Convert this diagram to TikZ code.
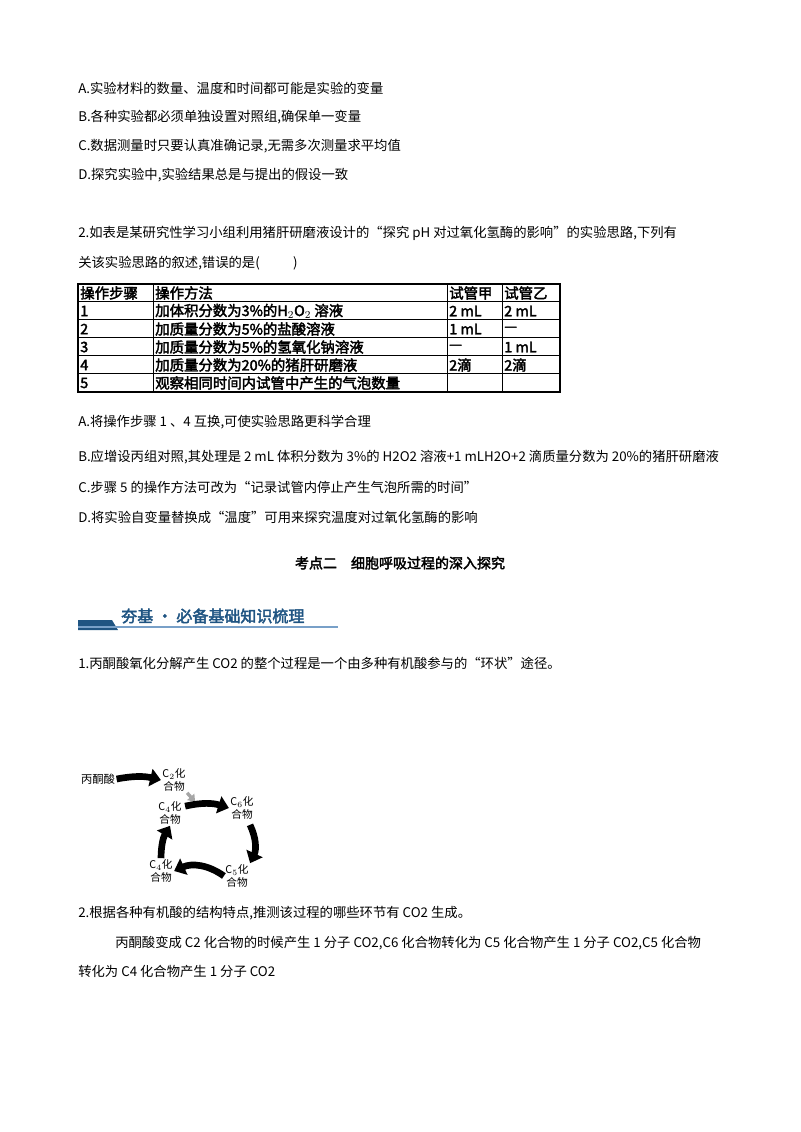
\documentclass[tikz,border=0pt]{standalone}
\usepackage{fontspec}
\setmainfont{Liberation Serif}
\newfontfamily\cjk{Noto Sans CJK SC}
\newfontfamily\cjkb{Noto Sans CJK SC}[FakeBold=2.5]
\usetikzlibrary{arrows.meta,positioning}
\definecolor{bannerblue}{RGB}{31,84,130}
\definecolor{bannerline}{RGB}{120,160,200}
\begin{document}
\begin{tikzpicture}[x=0.75pt,y=-0.75pt,
    line/.style={anchor=west, font=\cjk\fontsize{10}{12}\selectfont, inner sep=0pt},
    cell/.style={anchor=west, font=\cjkb\fontsize{10.8}{12}\selectfont, inner sep=0pt},
    cmpd/.style={font=\cjk\fontsize{8}{9.5}\selectfont, align=center, inner sep=1pt},
    fat/.style={-{Triangle[length=8pt,width=13pt]}, line width=5pt, black}]
  \useasboundingbox (0,0) rectangle (800,1132);

  % question 1 options
  \node[line] (qa) at (78,88) {A.实验材料的数量、温度和时间都可能是实验的变量};
  \node[line] (qb) at (78,117) {B.各种实验都必须单独设置对照组,确保单一变量};
  \node[line] (qc) at (78,146) {C.数据测量时只要认真准确记录,无需多次测量求平均值};
  \node[line] (qd) at (78,175) {D.探究实验中,实验结果总是与提出的假设一致};

  % question 2
  \node[line] (q2) at (78,233) {2.如表是某研究性学习小组利用猪肝研磨液设计的“探究 pH 对过氧化氢酶的影响”的实验思路,下列有};
  \node[line] (q2b) at (78,263) {关该实验思路的叙述,错误的是(\hspace{2.5em})};

  % table
  \draw[line width=1.2pt] (78,284) rectangle (560,392);
  \foreach \y in {301,319,337,355,373} \draw[line width=0.6pt] (78,\y) -- (560,\y);
  \foreach \x in {153,447,502} \draw[line width=0.6pt] (\x,284) -- (\x,392);
  \node[cell] (h1) at (80,293) {操作步骤};
  \node[cell] (h2) at (155,293) {操作方法};
  \node[cell] (h3) at (449,293) {试管甲};
  \node[cell] (h4) at (504,293) {试管乙};
  \node[cell] (r1) at (80,311) {1};
  \node[cell] (m1) at (155,311) {加体积分数为3\%的H$_2$O$_2$ 溶液};
  \node[cell] (a1) at (449,311) {2 mL};
  \node[cell] (b1) at (504,311) {2 mL};
  \node[cell] (r2) at (80,329) {2};
  \node[cell] (m2) at (155,329) {加质量分数为5\%的盐酸溶液};
  \node[cell] (a2) at (449,329) {1 mL};
  \node[cell] (b2) at (504,329) {—};
  \node[cell] (r3) at (80,347) {3};
  \node[cell] (m3) at (155,347) {加质量分数为5\%的氢氧化钠溶液};
  \node[cell] (a3) at (449,347) {—};
  \node[cell] (b3) at (504,347) {1 mL};
  \node[cell] (r4) at (80,365) {4};
  \node[cell] (m4) at (155,365) {加质量分数为20\%的猪肝研磨液};
  \node[cell] (a4) at (449,365) {2滴};
  \node[cell] (b4) at (504,365) {2滴};
  \node[cell] (r5) at (80,383) {5};
  \node[cell] (m5) at (155,383) {观察相同时间内试管中产生的气泡数量};

  % question 2 options
  \node[line] (oa) at (78,422) {A.将操作步骤 1 、4 互换,可使实验思路更科学合理};
  \node[line] (ob) at (78,457) {B.应增设丙组对照,其处理是 2 mL 体积分数为 3\%的 H2O2 溶液+1 mLH2O+2 滴质量分数为 20\%的猪肝研磨液};
  \node[line] (oc) at (78,487) {C.步骤 5 的操作方法可改为“记录试管内停止产生气泡所需的时间”};
  \node[line] (od) at (78,517) {D.将实验自变量替换成“温度”可用来探究温度对过氧化氢酶的影响};

  % heading
  \node[font=\cjkb\fontsize{10.5}{12}\selectfont] (head) at (400,563) {考点二\quad 细胞呼吸过程的深入探究};

  % banner
  \fill[bannerblue] (78,620) -- (112,620) -- (118,630) -- (78,630) -- cycle;
  \draw[bannerline, line width=0.8pt] (78,627) -- (338,627);
  \node[anchor=west, font=\cjkb\fontsize{12}{14}\selectfont, text=bannerblue, inner sep=0pt] (ban) at (121,616) {夯基 · 必备基础知识梳理};

  \node[line] (p1) at (78,663) {1.丙酮酸氧化分解产生 CO2 的整个过程是一个由多种有机酸参与的“环状”途径。};

  % cycle
  \node[font=\cjk\fontsize{8.5}{10}\selectfont, inner sep=1pt] (pyr) at (98,779) {丙酮酸};
  \node[cmpd] (c2) at (174,780) {C$_2$化\\合物};
  \node[cmpd] (c6) at (242,808) {C$_6$化\\合物};
  \node[cmpd] (c5) at (237,876) {C$_5$化\\合物};
  \node[cmpd] (c4b) at (161,871) {C$_4$化\\合物};
  \node[cmpd] (c4t) at (170,813) {C$_4$化\\合物};
  \draw[fat] (pyr.east) to[bend left=12] (c2.west);
  \draw[-{Triangle[length=5pt,width=7pt]}, line width=2.5pt, gray!70] (c2.south east) -- ++(8,9);
  \draw[fat] (c4t.north east) ++(2,6) to[bend left=15] (c6.west);
  \draw[fat] (c6.south) ++(8,4) to[bend left=25] (c5.north east);
  \draw[fat] (c5.west) to[bend right=30] (c4b.east);
  \draw[fat] (c4b.north) to[bend left=15] (c4t.south);

  % question 2 of section
  \node[line] (p2) at (78,913) {2.根据各种有机酸的结构特点,推测该过程的哪些环节有 CO2 生成。};
  \node[line] (p3) at (115,943) {丙酮酸变成 C2 化合物的时候产生 1 分子 CO2,C6 化合物转化为 C5 化合物产生 1 分子 CO2,C5 化合物};
  \node[line] (p4) at (78,971) {转化为 C4 化合物产生 1 分子 CO2};
\end{tikzpicture}
\end{document}
